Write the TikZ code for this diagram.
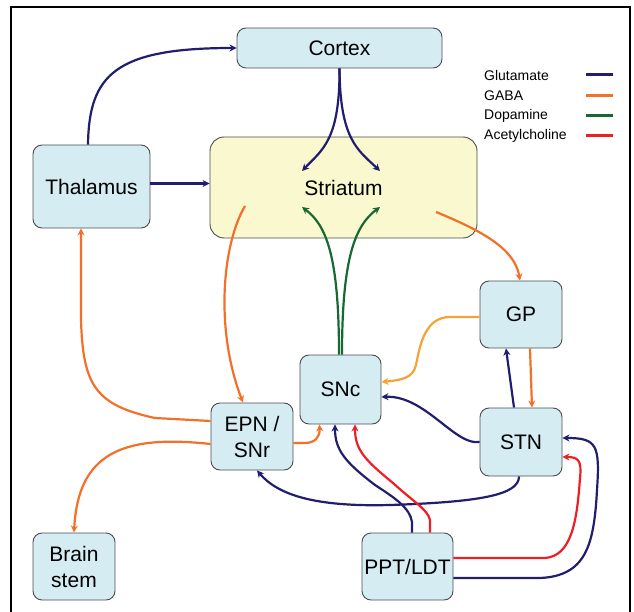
\documentclass[tikz,border=0pt]{standalone}
\usepackage{fontspec}
\setmainfont{Liberation Sans}
\usepackage{xcolor}
\usepackage{tikz}
\usetikzlibrary{arrows.meta, positioning, calc}
\definecolor{glucol}{RGB}{33,30,110}
\definecolor{gabacol}{RGB}{242,112,40}
\definecolor{gabalight}{RGB}{247,162,55}
\definecolor{dopacol}{RGB}{22,105,50}
\definecolor{achcol}{RGB}{237,30,36}
\definecolor{boxfill}{RGB}{213,236,243}
\definecolor{strfill}{RGB}{250,248,206}

\begin{document}
\begin{tikzpicture}[x=1pt, y=-1pt, >={Stealth[length=7pt,width=7pt]},
  every node/.style={font=\fontsize{21}{26}\selectfont},
  region/.style={draw=black!70, fill=boxfill, rounded corners=9pt, line width=0.9pt, align=center, inner sep=0pt},
  legend/.style={font=\fontsize{14}{16}\selectfont, anchor=west, inner sep=0pt},
  glu/.style={->, glucol, line width=2.2pt},
  gaba/.style={->, gabacol, line width=2.2pt},
  gabal/.style={->, gabalight, line width=2.2pt},
  dopa/.style={->, dopacol, line width=2.2pt},
  ach/.style={->, achcol, line width=2.2pt}]

\useasboundingbox (0,0) rectangle (634,612);
\draw[line width=2.5pt] (11,612) -- (11,7) -- (630,7) -- (630,612);

% regions
\node[region, minimum width=205pt, minimum height=40pt] (cortex) at (339.5,48) {Cortex};
\node[region, minimum width=117pt, minimum height=83pt] (thal) at (91.5,186.5) {Thalamus};
\node[region, fill=strfill, rounded corners=14pt, minimum width=267pt, minimum height=101pt] (stri) at (343.5,187.5) {Striatum};
\node[region, minimum width=82pt, minimum height=67pt] (gp) at (521,314.5) {GP};
\node[region, minimum width=81pt, minimum height=69pt] (snc) at (340.5,389.5) {SNc};
\node[region, minimum width=82pt, minimum height=67pt] (epn) at (252,436.5) {EPN /\\SNr};
\node[region, minimum width=82pt, minimum height=68pt] (stn) at (521,442) {STN};
\node[region, minimum width=82pt, minimum height=67pt] (bstem) at (74,566.5) {Brain\\stem};
\node[region, minimum width=91pt, minimum height=67pt] (ppt) at (407.5,566.5) {PPT/LDT};

% legend
\foreach \y/\name/\col in {75/Glutamate/glucol, 96/GABA/gabacol, 116/Dopamine/dopacol, 136/Acetylcholine/achcol} {
  \node[legend] (leg\name) at (484,\y) {\name};
  \draw[\col, line width=3pt] (586,\y) -- (613,\y);
}

% end points inside the striatum
\coordinate (strCL) at (302,171);
\coordinate (strCR) at (380,171);
\coordinate (strDL) at (302,207);
\coordinate (strDR) at (380,207);
\coordinate (strE) at (245,206);
\coordinate (strG) at (436,212);

% glutamate
\draw[glu] ([xshift=-3.5pt]thal.north) .. controls (89,75) and (115,48) .. (cortex.west);
\draw[glu] (cortex.south) .. controls (340,140) and (322,150) .. (strCL);
\draw[glu] (cortex.south) .. controls (340,140) and (358,150) .. (strCR);
\draw[glu] ([yshift=3pt]thal.east) -- ([yshift=3pt]thal.east -| stri.west);

% dopamine
\draw[dopa] ([xshift=-1.5pt]snc.north) .. controls (339,255) and (326,225) .. (strDL);
\draw[dopa] ([xshift=1.5pt]snc.north) .. controls (342,255) and (356,225) .. (strDR);

% gaba
\draw[gaba] (strE) .. controls (222,245) and (215,330) .. ([xshift=-9pt]epn.north);
\draw[gaba] (strG) .. controls (485,232) and (515,250) .. ([xshift=-1pt]gp.north);
\draw[gaba] ([yshift=15.5pt]epn.west) -- (155,418) .. controls (95,405) and (83,385) .. (81,320) -- ([xshift=-10.5pt]thal.south);
\draw[gaba] ([yshift=-7.5pt]epn.west) .. controls (120,434) and (78,455) .. (bstem.north);
\draw[gaba] ([yshift=-6.5pt]epn.east) -- (305,443) .. controls (315,443) and (320,437) .. ([xshift=-21pt]snc.south);
\draw[gabal] ([yshift=-2.5pt]gp.west) -- (450,317) .. controls (425,317) and (420,345) .. (416,365) .. controls (413,378) and (402,380) .. ([yshift=7.5pt]snc.east);
\draw[gaba] ([xshift=9pt]gp.south) -- ([xshift=11pt]stn.north);

% stn outputs
\draw[glu] ([xshift=-7pt]stn.north) -- ([xshift=-15pt]gp.south);
\draw[glu] (stn.west) .. controls (455,446) and (425,395) .. ([yshift=-7.5pt]snc.east);
\draw[glu] ([xshift=-2pt]stn.south) .. controls (519,495) and (480,502) .. (390,505) .. controls (315,507) and (278,495) .. ([xshift=5pt]epn.south);

% ppt/ldt outputs
\draw[glu] ([xshift=4.5pt]ppt.north) -- (412,522) .. controls (410,508) and (395,498) .. (375,485) .. controls (345,462) and (335,450) .. ([xshift=-5.5pt]snc.south);
\draw[ach] ([xshift=22.5pt]ppt.north) -- (430,520) .. controls (428,510) and (415,503) .. (393,483) .. controls (365,460) and (355,450) .. ([xshift=14.5pt]snc.south);
\draw[ach] ([yshift=8.5pt]ppt.east) -- (545,558) .. controls (572,556) and (577,520) .. (580,478) .. controls (582,460) and (578,457) .. ([yshift=-15pt]stn.east);
\draw[glu] ([yshift=-11.5pt]ppt.east) -- (540,578) .. controls (586,576) and (594,545) .. (597,490) .. controls (600,445) and (597,438) .. ([yshift=4pt]stn.east);

\end{tikzpicture}
\end{document}
